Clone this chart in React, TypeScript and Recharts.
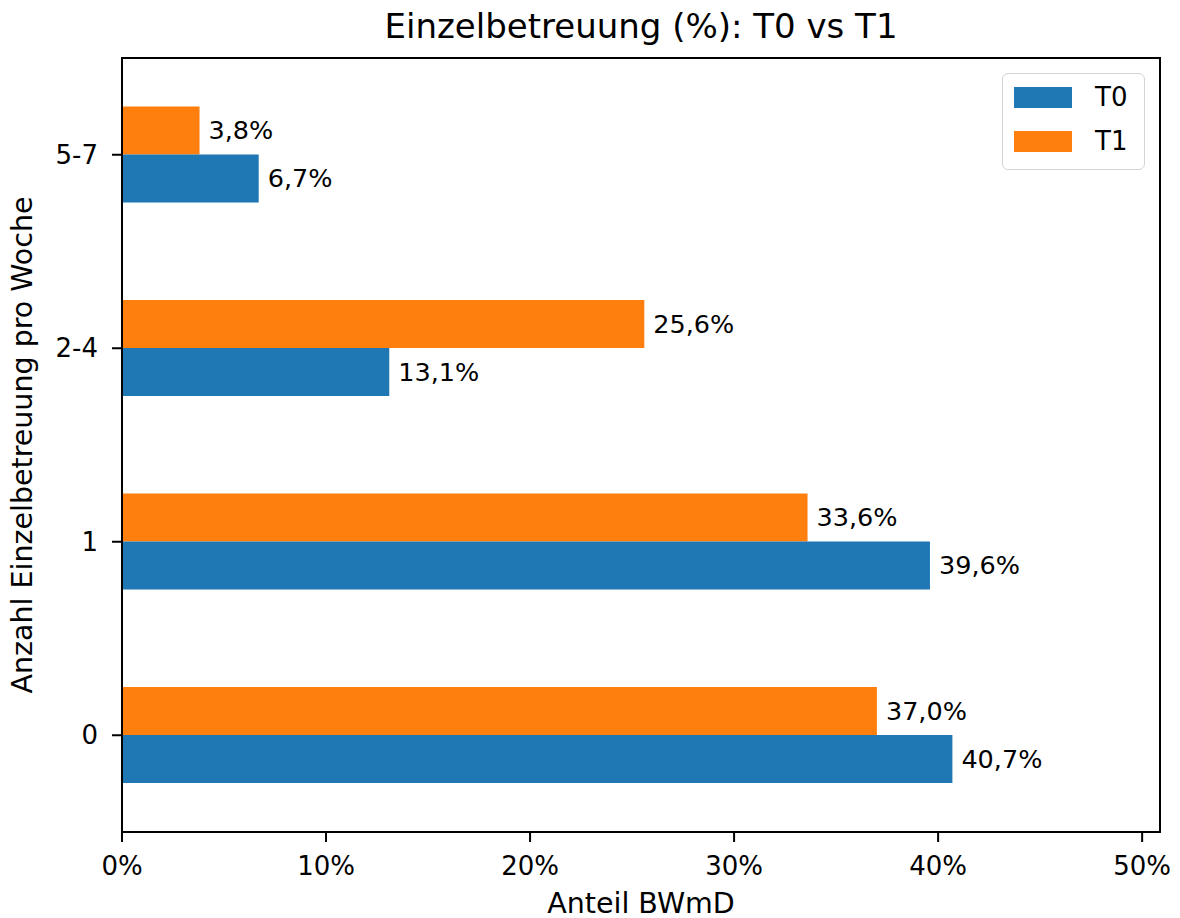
import React from 'react';
import { BarChart, Bar, XAxis, YAxis, ReferenceArea, LabelList, Legend } from 'recharts';

// values
const categories = ['0', '1', '2-4', '5-7'];
const t0Values = [40.7, 39.6, 13.1, 6.7];
const t1Values = [37.0, 33.6, 25.6, 3.8];
const xTicks = [0, 10, 20, 30, 40, 50];

const seriesNames = ['T0', 'T1'];
const seriesColors = ['#1f77b4', '#ff7f0e'];

const data = categories.map((cat, i) => ({ cat, T0: t0Values[i], T1: t1Values[i] }));

const FONT = '"DejaVu Sans", sans-serif';
const X_MAX = 50.875;

const fmt = (v: number) => v.toFixed(1).replace('.', ',') + '%';

const LegendBox = () => (
  <div
    style={{
      position: 'relative',
      width: 143,
      height: 97,
      boxSizing: 'border-box',
      border: '1.5px solid #d4d4d4',
      borderRadius: 6,
      background: '#fff',
      fontFamily: FONT,
      fontSize: 26,
      color: '#000',
    }}
  >
    {seriesNames.map((name, i) => (
      <React.Fragment key={name}>
        <div
          style={{
            position: 'absolute',
            left: 11,
            top: 13 + i * 44,
            width: 58,
            height: 21,
            background: seriesColors[i],
          }}
        />
        <div style={{ position: 'absolute', left: 92, top: 5 + i * 44, lineHeight: '36px' }}>{name}</div>
      </React.Fragment>
    ))}
  </div>
);

const App = () => {
  return (
    <div style={{ position: 'absolute', left: 0, top: 0, width: 1180, height: 918, fontFamily: FONT, background: '#fff' }}>
      <BarChart
        width={1180}
        height={918}
        data={data}
        layout="vertical"
        margin={{ top: 58, right: 20, bottom: 0, left: 0 }}
        barCategoryGap="25%"
        barGap={0}
      >
        <XAxis
          type="number"
          domain={[0, X_MAX]}
          ticks={xTicks}
          tickFormatter={(v) => `${v}%`}
          height={86}
          allowDataOverflow
          stroke="#000"
          strokeWidth={2}
          tickSize={10}
          tickMargin={15}
          tick={{ fontSize: 26, fill: '#000', fontFamily: FONT }}
        />
        <YAxis
          type="category"
          dataKey="cat"
          reversed
          width={122}
          stroke="#000"
          strokeWidth={2}
          tickSize={10}
          tickMargin={14}
          tick={{ fontSize: 26, fill: '#000', fontFamily: FONT }}
        />
        <Legend
          layout="vertical"
          align="center"
          verticalAlign="middle"
          wrapperStyle={{ top: 73, left: 1002, width: 143, height: 97 }}
          content={() => <LegendBox />}
        />
        <Bar dataKey="T1" fill={seriesColors[1]} isAnimationActive={false}>
          <LabelList dataKey="T1" position="right" offset={9} formatter={(v: number) => fmt(v)} style={{ fontSize: 25.5, fill: '#000', fontFamily: FONT }} />
        </Bar>
        <Bar dataKey="T0" fill={seriesColors[0]} isAnimationActive={false}>
          <LabelList dataKey="T0" position="right" offset={9} formatter={(v: number) => fmt(v)} style={{ fontSize: 25.5, fill: '#000', fontFamily: FONT }} />
        </Bar>
        <ReferenceArea x1={0} x2={X_MAX} fill="none" stroke="#000" strokeWidth={2} ifOverflow="visible" />
      </BarChart>

      <div
        style={{
          position: 'absolute',
          left: 641,
          top: 26,
          transform: 'translate(-50%, -50%)',
          fontSize: 34,
          lineHeight: 1,
          whiteSpace: 'nowrap',
          color: '#000',
        }}
      >
        Einzelbetreuung (%): T0 vs T1
      </div>
      <div
        style={{
          position: 'absolute',
          left: 641,
          top: 904,
          transform: 'translate(-50%, -50%)',
          fontSize: 28.5,
          lineHeight: 0.85,
          whiteSpace: 'nowrap',
          color: '#000',
        }}
      >
        Anteil BWmD
      </div>
      <div
        style={{
          position: 'absolute',
          left: 23,
          top: 445,
          transform: 'translate(-50%, -50%) rotate(-90deg)',
          fontSize: 28.5,
          lineHeight: 1,
          whiteSpace: 'nowrap',
          color: '#000',
        }}
      >
        Anzahl Einzelbetreuung pro Woche
      </div>
    </div>
  );
};

export default App;
